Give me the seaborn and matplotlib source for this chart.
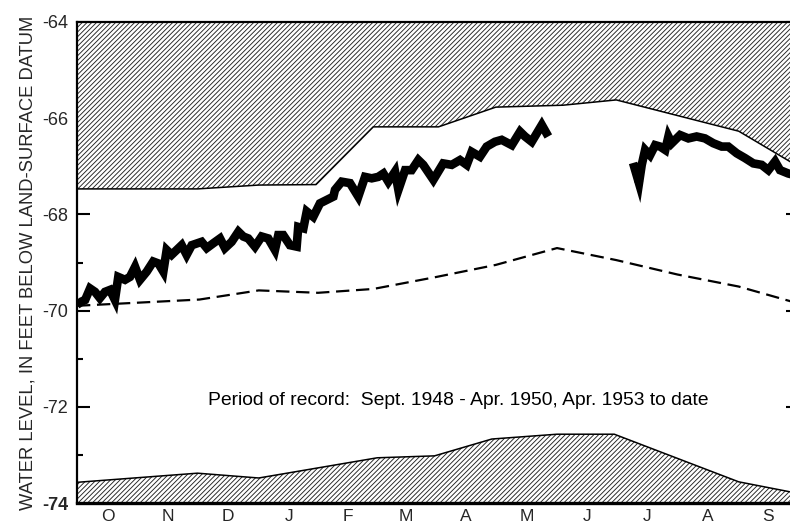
import numpy as np
import matplotlib
matplotlib.use("Agg")
import matplotlib.pyplot as plt
import seaborn as sns

# Water-year axis: days since October 1
month_labels = ["O", "N", "D", "J", "F", "M", "A", "M", "J", "J", "A", "S"]
month_lengths = [31, 30, 31, 31, 28, 31, 30, 31, 30, 31, 31, 30]

# Highest recorded levels (lower edge of the upper shaded band)
max_day = [0, 61, 92, 121, 150, 183, 212, 246, 273, 335, 365]
max_level = [-67.47, -67.47, -67.39, -67.38, -66.18, -66.18, -65.77, -65.73,
             -65.62, -66.27, -67.00]

# Lowest recorded levels
min_day = [0, 61, 92, 122, 152, 181, 210, 243, 272, 335, 365]
min_level = [-73.57, -73.38, -73.48, -73.27, -73.06, -73.02, -72.67, -72.57,
             -72.57, -73.56, -73.80]

# Median levels for period of record
med_day = [0, 62, 92, 122, 150, 182, 212, 243, 273, 304, 335, 365]
med_level = [-69.90, -69.77, -69.58, -69.63, -69.55, -69.30, -69.05, -68.70,
             -68.95, -69.25, -69.50, -69.85]

# Current water year, first segment (Oct - late May)
cur1_day = [0, 2.4, 4.1, 6.6, 9.1, 11.6, 14.2, 16.7, 19.2, 20.9, 24.3, 26.8,
            29.4, 31.9, 35.3, 38.6, 41.2, 43.7, 45.4, 47.9, 53.0, 55.5, 58.1,
            63.1, 65.7, 69.0, 72.4, 74.9, 78.3, 81.7, 84.2, 86.7, 90.1, 93.5,
            96.8, 100.2, 101.9, 104.4, 107.8, 111.2, 112.0, 114.6, 116.3,
            119.6, 123.0, 126.4, 129.8, 130.6, 134.0, 138.2, 142.4, 145.8,
            149.2, 152.5, 155.1, 157.6, 161.0, 162.7, 166.1, 169.4, 172.8,
            175.3, 180.4, 185.4, 189.7, 193.9, 197.3, 199.8, 204.0, 207.4,
            211.6, 215.0, 220.1, 224.3, 226.8, 230.2, 235.3, 238.6]
cur1_level = [-69.88, -69.81, -69.78, -69.54, -69.61, -69.74, -69.61, -69.57,
              -69.78, -69.30, -69.36, -69.30, -69.09, -69.36, -69.19, -68.98,
              -69.02, -69.19, -68.74, -68.84, -68.64, -68.84, -68.64, -68.57,
              -68.70, -68.60, -68.50, -68.70, -68.57, -68.36, -68.46, -68.50,
              -68.67, -68.46, -68.50, -68.74, -68.43, -68.43, -68.64, -68.67,
              -68.26, -68.29, -67.94, -68.05, -67.77, -67.70, -67.63, -67.49,
              -67.32, -67.35, -67.63, -67.22, -67.25, -67.22, -67.15, -67.32,
              -67.11, -67.49, -67.08, -67.08, -66.87, -66.97, -67.28, -66.94,
              -66.97, -66.87, -66.97, -66.70, -66.80, -66.59, -66.49, -66.45,
              -66.56, -66.28, -66.38, -66.49, -66.14, -66.38]

# Current water year, second segment (mid-July - Sept)
cur2_day = [281.5, 284.5, 285.9, 287.6, 290.1, 292.7, 295.2, 297.8, 299.4,
            301.1, 305.3, 309.5, 313.7, 317.9, 322.1, 326.4, 329.7, 334.0,
            338.2, 342.4, 346.6, 350.0, 353.4, 355.9, 360.1, 365.0]
cur2_level = [-66.93, -67.35, -66.97, -66.66, -66.77, -66.56, -66.59, -66.66,
              -66.38, -66.52, -66.35, -66.42, -66.38, -66.42, -66.52, -66.59,
              -66.59, -66.73, -66.83, -66.94, -66.97, -67.08, -66.90, -67.08,
              -67.15, -67.20]

y_ticks = [-74, -72, -70, -68, -66, -64]
y_tick_labels = ["-74", "-72", "-70", "-68", "-66", "-64"]
ylabel = "WATER LEVEL, IN FEET BELOW LAND-SURFACE DATUM"
note = "Period of record:  Sept. 1948 - Apr. 1950, Apr. 1953 to date"

sns.set_style("white")
plt.rcParams["font.family"] = ["Liberation Sans", "DejaVu Sans"]
plt.rcParams["hatch.linewidth"] = 0.65
plt.rcParams["hatch.color"] = "#222222"
plt.rcParams["axes.unicode_minus"] = False

fig = plt.figure(figsize=(7.9, 5.26), dpi=100)
ax = fig.add_axes([77 / 790, 23 / 526, 721 / 790, 481 / 526])

y_top, y_bot = -64, -74

# Shaded bands above the maximum and below the minimum
ax.fill_between(max_day, max_level, y_top, facecolor="white",
                edgecolor="#222222", hatch="///////", linewidth=0, zorder=1)
ax.fill_between(min_day, y_bot, min_level, facecolor="white",
                edgecolor="#222222", hatch="///////", linewidth=0, zorder=1)
sns.lineplot(x=max_day, y=max_level, ax=ax, color="black", lw=1.1, zorder=2)
sns.lineplot(x=min_day, y=min_level, ax=ax, color="black", lw=1.1, zorder=2)

# Median line
sns.lineplot(x=med_day, y=med_level, ax=ax, color="black", lw=1.6,
             zorder=3)
ax.lines[-1].set_dashes((6, 3))

# Current-year hydrograph
for d, v in ((cur1_day, cur1_level), (cur2_day, cur2_level)):
    sns.lineplot(x=d, y=v, ax=ax, color="black", lw=6.2, zorder=4,
                 sort=False)
for ln in ax.lines[-2:]:
    ln.set_solid_joinstyle("miter")
    ln.set_solid_capstyle("butt")

ax.text(193, -71.86, note, ha="center", va="center", fontsize=13.9,
        color="black")

ax.set_xlim(0, 365)
ax.set_ylim(y_bot, y_top)

bounds = np.concatenate([[0], np.cumsum(month_lengths)])
mids = (bounds[:-1] + bounds[1:]) / 2
ax.set_xticks(bounds)
ax.set_xticklabels([])
ax.set_xticks(mids, minor=True)
ax.set_xticklabels(month_labels, minor=True, fontsize=12.5)
ax.tick_params(axis="x", which="major", direction="in", length=6, width=1.2,
               top=True, bottom=True, color="black")
ax.tick_params(axis="x", which="minor", length=0, pad=4, labelsize=12.5)

ax.set_yticks(y_ticks)
ax.set_yticklabels(y_tick_labels, fontsize=13)
ax.set_yticks(np.arange(-73, -64, 2), minor=True)
ax.tick_params(axis="y", which="major", direction="in", length=9, width=1.5,
               left=True, right=True, pad=6.5, color="black")
ax.tick_params(axis="y", which="minor", direction="in", length=4.5, width=1.5,
               left=True, right=True, color="black")
ax.get_yticklabels()[0].set_fontweight("bold")

ax.set_ylabel(ylabel, fontsize=13.2)
ax.yaxis.set_label_coords(-0.0555, 0.5)

for side in ["left", "top", "right"]:
    ax.spines[side].set_linewidth(1.6)
    ax.spines[side].set_color("black")
ax.spines["bottom"].set_linewidth(2.4)
ax.spines["bottom"].set_color("black")

fig.savefig("out.png", dpi=100)
